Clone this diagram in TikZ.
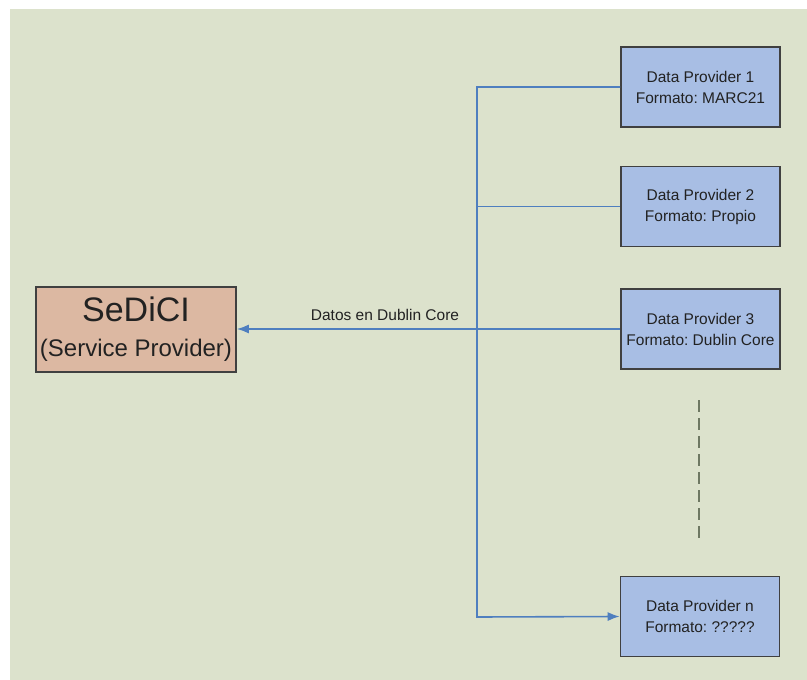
\documentclass[tikz,border=0pt]{standalone}
\usepackage{fontspec}
\setmainfont{Liberation Sans}
\frenchspacing
\usetikzlibrary{arrows.meta}
\definecolor{bggreen}{HTML}{DCE2CC}
\definecolor{dpblue}{HTML}{A8BEE4}
\definecolor{spsalmon}{HTML}{DCB8A2}
\definecolor{linkblue}{HTML}{4F7FBF}
\definecolor{boxborder}{HTML}{404040}
\definecolor{dashgray}{HTML}{6E7862}
\definecolor{txt}{HTML}{222222}
\tikzset{
  dpbox/.style={draw=boxborder, line width=1.6pt, fill=dpblue, minimum width=159pt, minimum height=80pt, inner sep=0pt, align=center, text=txt, font=\fontsize{15.5}{21}\selectfont},
  spbox/.style={draw=boxborder, line width=1.6pt, fill=spsalmon, minimum width=200pt, minimum height=85pt, inner sep=0pt, align=center, text=txt},
  link/.style={draw=linkblue, line width=1.6pt},
  linkarrow/.style={link, -{Latex[length=12pt,width=9pt]}},
  lbl/.style={text=txt, font=\fontsize{15.5}{18}\selectfont, inner sep=0pt},
  ellipsisline/.style={draw=dashgray, line width=2pt, dash pattern=on 12pt off 6pt}
}
\begin{document}
\begin{tikzpicture}[x=1pt, y=-1pt]
\useasboundingbox (0,0) rectangle (807,680);
\fill[white] (0,0) rectangle (807,680);
\fill[bggreen] (10,9) rectangle (807,680);

\node[dpbox] (dp1) at (700.5,87) {Data Provider 1\\Formato: MARC21};
\node[dpbox] (dp2) at (700.5,206.5) {Data Provider 2\\Formato: Propio};
\node[dpbox] (dp3) at (700.5,329) {Data Provider 3\\Formato: Dublin Core};
\node[dpbox] (dpn) at (700,616.5) {Data Provider n\\Formato: ?????};

\node[spbox] (sp) at (136,329.5) {\fontsize{34}{34}\selectfont SeDiCI\\[16pt]\fontsize{24}{33}\selectfont (Service Provider)};

\coordinate (jtop) at (477,87);
\coordinate (jbot) at (477,617);

\draw[linkarrow] (dp1.west) -- (jtop) -- (jbot) -- (dpn.west);
\draw[link] (dp2.west) -- (dp2.west -| jtop);
\draw[linkarrow] (dp3.west) -- (sp.east |- dp3.west);

\node[lbl, anchor=base] (dclabel) at (385,320) {Datos en Dublin Core};

\coordinate (dtop) at (699,400);
\coordinate (dbot) at (699,541);
\draw[ellipsisline] (dtop) -- (dbot);
\end{tikzpicture}
\end{document}
